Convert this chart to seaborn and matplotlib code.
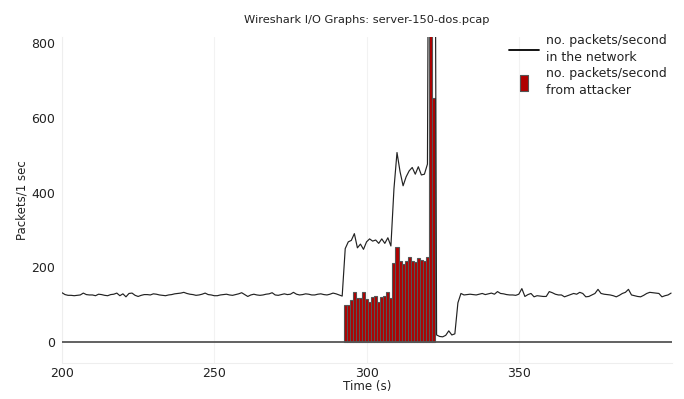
import numpy as np
import pandas as pd
import matplotlib
matplotlib.use("Agg")
import matplotlib.pyplot as plt
import seaborn as sns
from matplotlib.lines import Line2D

# ---------------- data ----------------
net_time = list(range(200, 401))
net_pps = [
    # 200-291 normal traffic
    132, 127, 125, 125, 124, 125, 126, 131, 127, 126,
    126, 124, 128, 127, 125, 124, 127, 128, 131, 124,
    129, 121, 130, 131, 125, 122, 125, 127, 127, 126,
    129, 128, 126, 125, 124, 126, 127, 129, 130, 131,
    133, 130, 128, 127, 125, 126, 128, 131, 127, 126,
    124, 124, 126, 127, 128, 126, 125, 127, 129, 132,
    127, 122, 126, 128, 126, 125, 126, 128, 129, 132,
    126, 125, 127, 129, 127, 128, 133, 128, 126, 127,
    129, 128, 126, 126, 128, 129, 127, 126, 128, 131,
    129, 126,
    # 292-330 attack period
    123, 250, 268, 272, 290, 252, 262, 248, 268, 276,
    270, 273, 264, 276, 264, 279, 257, 410, 507, 456,
    418, 442, 458, 467, 449, 469, 447, 449, 476, 2500,
    2500, 19, 15, 14, 18, 30, 19, 22, 105,
    # 331-400 back to normal
    130, 126, 127, 128, 127, 126, 128, 130, 127, 129,
    131, 128, 135, 130, 129, 127, 126, 126, 125, 128,
    143, 122, 127, 130, 121, 124, 123, 122, 122, 135,
    132, 128, 126, 126, 121, 124, 127, 130, 128, 133,
    130, 121, 122, 126, 130, 141, 130, 128, 127, 126,
    124, 121, 125, 130, 133, 141, 126, 124, 122, 121,
    125, 130, 133, 132, 131, 130, 121, 124, 126, 131,
]

att_time = list(range(293, 323))
att_pps = [
    99, 99, 112, 133, 119, 119, 135, 115, 108, 121,
    124, 108, 120, 123, 134, 118, 211, 255, 217, 208,
    217, 227, 218, 213, 224, 220, 218, 228, 2000, 653,
]

title = "Wireshark I/O Graphs: server-150-dos.pcap"
x_label = "Time (s)"
y_label = "Packets/1 sec"
legend_labels = ["no. packets/second\nin the network",
                 "no. packets/second\nfrom attacker"]
x_ticks = [200, 250, 300, 350]
y_ticks = [0, 200, 400, 600, 800]

net_df = pd.DataFrame({"time": net_time, "pps": net_pps})
att_df = pd.DataFrame({"time": att_time, "pps": att_pps})

# ---------------- plot ----------------
sns.set_style("white")
plt.rcParams["font.family"] = ["DejaVu Sans"]
plt.rcParams["font.size"] = 9

fig = plt.figure(figsize=(6.84, 3.99), dpi=100)
ax = fig.add_axes([62 / 684, 1 - 363 / 399, 610 / 684, 326 / 399])

bar_color = "#b00000"
edge_color = "#555555"

sns.histplot(data=att_df, x="time", weights="pps", discrete=True,
             color=bar_color, edgecolor=edge_color, linewidth=0.8,
             alpha=1.0, ax=ax, zorder=2)

ax.axhline(0, color="#555555", lw=1.3, zorder=3)

sns.lineplot(data=net_df, x="time", y="pps", color="#222222",
             lw=0.85, ax=ax, zorder=4)

ax.set_xlim(200, 400.3)
ax.set_ylim(-56, 816)
ax.set_xticks(x_ticks)
ax.set_yticks(y_ticks)
ax.tick_params(axis="both", length=0, labelsize=9, colors="#222222")
ax.tick_params(axis="x", pad=3)
ax.tick_params(axis="y", pad=5)

ax.grid(axis="x", color="#f2f2f2", lw=0.8)
ax.set_axisbelow(True)
for side in ["top", "right"]:
    ax.spines[side].set_visible(False)
for side in ["left", "bottom"]:
    ax.spines[side].set_color("#eeeeee")
    ax.spines[side].set_linewidth(0.8)

ax.set_xlabel(x_label, fontsize=8.6, color="#222222", labelpad=0)
ax.set_ylabel(y_label, fontsize=8.5, color="#222222", labelpad=2)
ax.set_title(title, fontsize=8.2, color="#222222", pad=10)

rect_marker = [(-0.5, -1), (0.5, -1), (0.5, 1), (-0.5, 1), (-0.5, -1)]
handles = [
    Line2D([0], [0], color="black", lw=1.3),
    Line2D([0], [0], color=bar_color, marker=rect_marker, markersize=12,
           markeredgecolor=edge_color, markeredgewidth=0.8, linestyle="none"),
]
leg = ax.legend(handles, legend_labels, loc="upper left",
                bbox_to_anchor=(0.722, 1.028), frameon=False, fontsize=9,
                handlelength=2.4, handletextpad=0.6, labelspacing=0.25,
                borderpad=0.0)
for txt in leg.get_texts():
    txt.set_linespacing(1.4)
    txt.set_color("#222222")

fig.savefig("out.png", dpi=100)
